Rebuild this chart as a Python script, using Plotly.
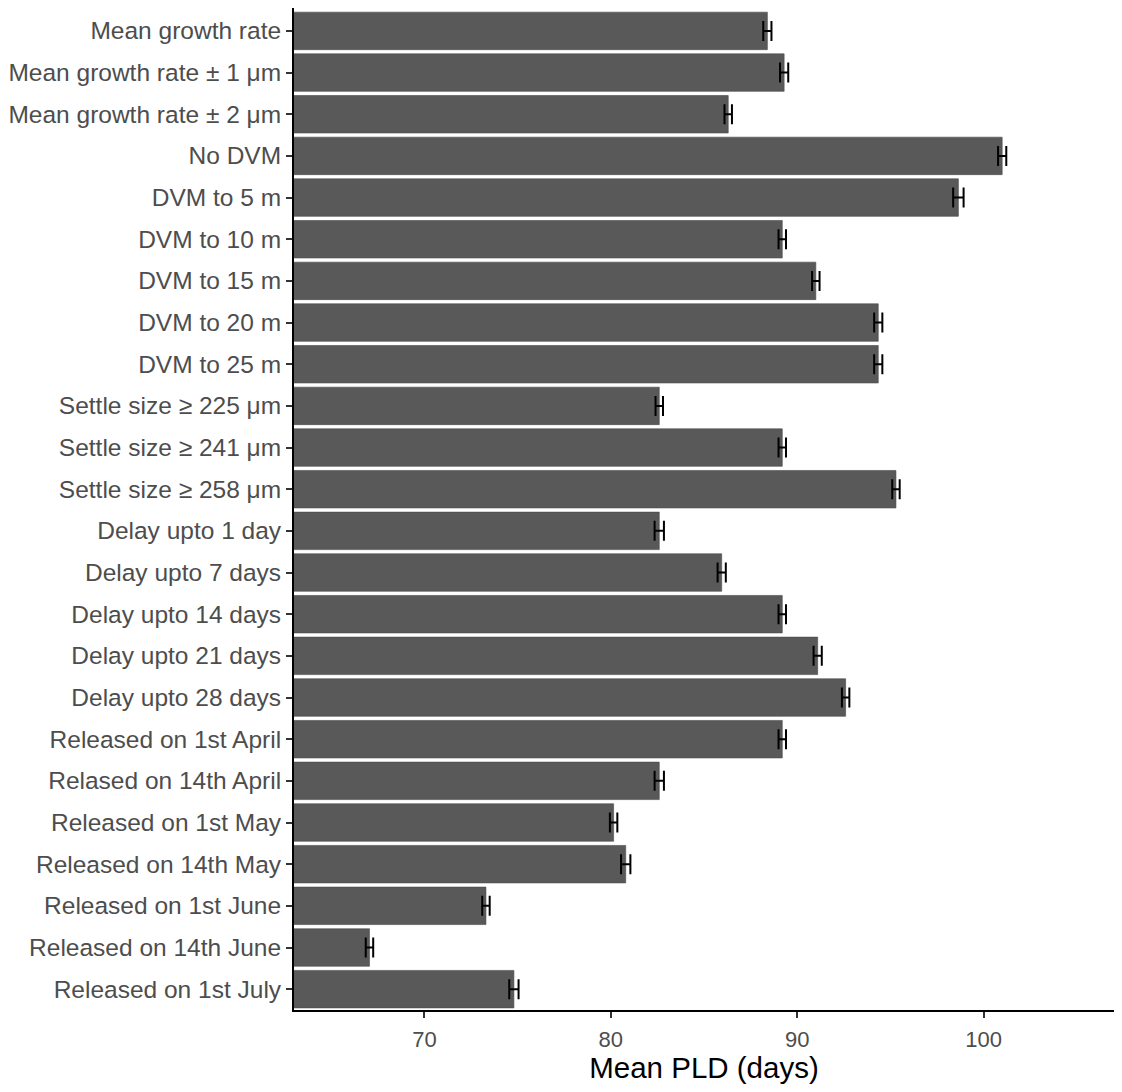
import plotly.graph_objects as go

scenarios = [
    "Mean growth rate", "Mean growth rate ± 1 μm", "Mean growth rate ± 2 μm",
    "No DVM", "DVM to 5 m", "DVM to 10 m", "DVM to 15 m", "DVM to 20 m", "DVM to 25 m",
    "Settle size ≥ 225 μm", "Settle size ≥ 241 μm", "Settle size ≥ 258 μm",
    "Delay upto 1 day", "Delay upto 7 days", "Delay upto 14 days",
    "Delay upto 21 days", "Delay upto 28 days",
    "Released on 1st April", "Relased on 14th April", "Released on 1st May",
    "Released on 14th May", "Released on 1st June", "Released on 14th June",
    "Released on 1st July",
]
mean_pld = [
    88.4, 89.3, 86.3,
    101.0, 98.65, 89.2, 91.0, 94.35, 94.35,
    82.6, 89.2, 95.3,
    82.6, 85.95, 89.2, 91.1, 92.6,
    89.2, 82.6, 80.15, 80.8, 73.3, 67.05, 74.8,
]
se_pld = [
    0.22, 0.22, 0.2,
    0.22, 0.28, 0.2, 0.2, 0.22, 0.22,
    0.2, 0.2, 0.2,
    0.25, 0.22, 0.2, 0.22, 0.2,
    0.2, 0.25, 0.2, 0.25, 0.2, 0.2, 0.25,
]

fig = go.Figure(go.Bar(
    x=mean_pld, y=scenarios, orientation="h", width=0.9,
    marker=dict(color="#595959", line=dict(color="#4a4a4a", width=0.6)),
    error_x=dict(type="data", array=se_pld, color="black", thickness=2, width=10),
))

# page body adds an 8px margin, so the figure is sized to fit inside the window
fig.update_layout(
    width=1106, height=1076, plot_bgcolor="white", paper_bgcolor="white",
    margin=dict(l=284, r=0, t=0, b=74), showlegend=False,
    font=dict(family="Liberation Sans, Arial, sans-serif"),
)
fig.update_xaxes(
    range=[63, 107], tickvals=[70, 80, 90, 100], showgrid=False, zeroline=False,
    showline=True, linecolor="black", linewidth=2, ticks="outside", ticklen=6,
    tickcolor="#333333", tickwidth=1.5, ticklabelstandoff=3,
    tickfont=dict(size=22, color="#4d4d4d"),
    title=dict(text="Mean PLD (days)", font=dict(size=29.5, color="black"), standoff=8),
)
fig.update_yaxes(
    categoryorder="array", categoryarray=scenarios[::-1], range=[-0.5, 23.55],
    showgrid=False, showline=True, linecolor="black", linewidth=2,
    ticks="outside", ticklen=6, tickcolor="#333333", tickwidth=1.5,
    tickfont=dict(size=24.5, color="#4d4d4d"),
)

fig.write_html("out.html")
